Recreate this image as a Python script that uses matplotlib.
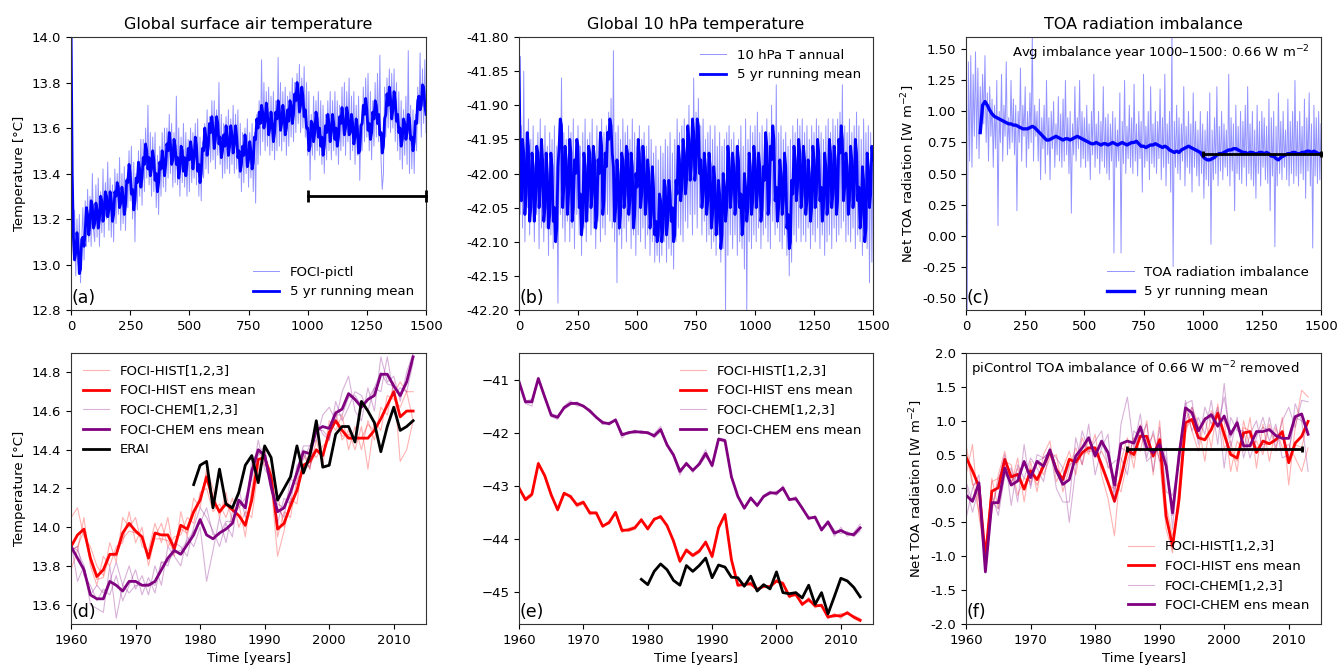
import numpy as np
import matplotlib
matplotlib.use("Agg")
import matplotlib.pyplot as plt
from matplotlib.ticker import FormatStrFormatter

plt.rcParams["font.family"] = ["DejaVu Sans"]
plt.rcParams["font.size"] = 9.5
plt.rcParams["axes.edgecolor"] = "0.2"

# ---------------------------------------------------------------- piControl (years 0-1500)
pictl_step = 5          # spacing of the annual and running-mean samples [years]
toa_mean_step = 10      # spacing of the smoothed TOA samples [years]

# global surface air temperature, annual values [°C]
sat_annual = [
    14.30, 13.20, 13.02, 13.24, 12.95, 13.20, 13.00, 13.22, 12.92, 13.10, 13.25, 13.02, 13.28, 13.08, 13.33, 13.10, 13.30, 13.08, 13.40, 13.15,
    13.10, 13.35, 13.12, 13.38, 13.08, 13.32, 13.14, 13.42, 13.12, 13.36, 13.20, 13.45, 13.15, 13.38, 13.12, 13.35, 13.10, 13.42, 13.18, 13.40,
    13.22, 13.47, 13.15, 13.40, 13.18, 13.43, 13.15, 13.38, 13.25, 13.50, 13.28, 13.52, 13.20, 13.45, 13.10, 13.40, 13.24, 13.50, 13.30, 13.55,
    13.26, 13.55, 13.32, 13.60, 13.38, 13.70, 13.35, 13.58, 13.30, 13.56, 13.32, 13.58, 13.25, 13.48, 13.22, 13.52, 13.30, 13.58, 13.34, 13.60,
    13.32, 13.60, 13.38, 13.66, 13.40, 13.62, 13.34, 13.58, 13.36, 13.74, 13.35, 13.60, 13.30, 13.56, 13.36, 13.62, 13.34, 13.58, 13.30, 13.55,
    13.32, 13.60, 13.36, 13.58, 13.38, 13.62, 13.35, 13.64, 13.30, 13.56, 13.28, 13.54, 13.38, 13.62, 13.42, 13.68, 13.40, 13.65, 13.45, 13.72,
    13.46, 13.72, 13.42, 13.68, 13.48, 13.80, 13.44, 13.66, 13.38, 13.62, 13.40, 13.65, 13.42, 13.68, 13.40, 13.64, 13.44, 13.70, 13.40, 13.66,
    13.42, 13.68, 13.38, 13.62, 13.32, 13.58, 13.36, 13.60, 13.40, 13.64, 13.34, 13.58, 13.38, 13.62, 13.32, 13.58, 13.27, 13.66, 13.44, 13.72,
    13.48, 13.90, 13.54, 13.80, 13.50, 13.76, 13.52, 13.78, 13.48, 13.74, 13.50, 13.76, 13.46, 13.72, 13.50, 13.91, 13.52, 13.80, 13.50, 13.76,
    13.54, 13.78, 13.48, 13.74, 13.52, 13.76, 13.56, 13.82, 13.54, 13.80, 13.58, 13.84, 13.62, 13.88, 13.58, 13.82, 13.60, 13.87, 13.56, 13.80,
    13.48, 13.76, 13.37, 13.66, 13.48, 13.74, 13.46, 13.72, 13.50, 13.76, 13.48, 13.72, 13.44, 13.70, 13.40, 13.66, 13.46, 13.72, 13.50, 13.76,
    13.46, 13.72, 13.50, 13.76, 13.48, 13.72, 13.44, 13.70, 13.50, 13.78, 13.52, 13.80, 13.48, 13.76, 13.54, 13.82, 13.46, 13.74, 13.50, 13.76,
    13.44, 13.70, 13.48, 13.74, 13.37, 13.62, 13.50, 13.78, 13.54, 13.82, 13.56, 13.84, 13.50, 13.76, 13.46, 13.72, 13.52, 13.80, 13.56, 13.84,
    13.54, 13.92, 13.46, 13.33, 13.40, 13.78, 13.56, 13.82, 13.60, 13.86, 13.58, 13.84, 13.60, 13.86, 13.54, 13.80, 13.50, 13.76, 13.46, 13.72,
    13.42, 13.68, 13.48, 13.74, 13.44, 13.94, 13.40, 13.70, 13.42, 13.68, 13.40, 13.66, 13.50, 13.78, 13.62, 13.93, 13.56, 13.86, 13.62, 13.90,
    13.58,
]
sat_runmean = [
    14.05, 13.40, 13.12, 13.02, 13.05, 13.14, 13.08, 12.96, 12.98, 13.11, 13.12, 13.08, 13.15, 13.25, 13.22, 13.13, 13.18, 13.28, 13.26, 13.16,
    13.18, 13.27, 13.24, 13.16, 13.20, 13.30, 13.28, 13.19, 13.22, 13.32, 13.30, 13.21, 13.24, 13.32, 13.28, 13.19, 13.22, 13.32, 13.30, 13.36,
    13.34, 13.25, 13.27, 13.34, 13.30, 13.22, 13.26, 13.37, 13.36, 13.44, 13.40, 13.31, 13.33, 13.24, 13.28, 13.38, 13.36, 13.45, 13.42, 13.34,
    13.38, 13.47, 13.44, 13.53, 13.50, 13.42, 13.47, 13.39, 13.42, 13.50, 13.46, 13.37, 13.40, 13.32, 13.36, 13.45, 13.42, 13.50, 13.46, 13.39,
    13.44, 13.53, 13.50, 13.58, 13.53, 13.44, 13.46, 13.55, 13.52, 13.44, 13.47, 13.38, 13.42, 13.52, 13.50, 13.41, 13.47, 13.39, 13.44, 13.51,
    13.46, 13.54, 13.50, 13.42, 13.47, 13.56, 13.52, 13.41, 13.44, 13.36, 13.40, 13.51, 13.50, 13.60, 13.56, 13.48, 13.52, 13.62, 13.58, 13.65,
    13.60, 13.51, 13.55, 13.65, 13.62, 13.53, 13.56, 13.47, 13.50, 13.57, 13.52, 13.61, 13.56, 13.48, 13.52, 13.61, 13.57, 13.49, 13.53, 13.61,
    13.56, 13.47, 13.50, 13.41, 13.44, 13.52, 13.48, 13.57, 13.52, 13.43, 13.46, 13.54, 13.50, 13.42, 13.45, 13.56, 13.55, 13.64, 13.60, 13.67,
    13.62, 13.70, 13.67, 13.60, 13.63, 13.71, 13.66, 13.57, 13.60, 13.67, 13.62, 13.54, 13.58, 13.67, 13.64, 13.72, 13.68, 13.59, 13.62, 13.70,
    13.66, 13.57, 13.60, 13.68, 13.63, 13.72, 13.70, 13.62, 13.66, 13.75, 13.72, 13.80, 13.76, 13.67, 13.70, 13.78, 13.74, 13.65, 13.68, 13.60,
    13.60, 13.50, 13.52, 13.63, 13.62, 13.54, 13.58, 13.67, 13.64, 13.56, 13.60, 13.52, 13.56, 13.48, 13.52, 13.61, 13.58, 13.66, 13.62, 13.54,
    13.58, 13.66, 13.62, 13.55, 13.60, 13.52, 13.56, 13.65, 13.62, 13.69, 13.64, 13.57, 13.60, 13.69, 13.66, 13.57, 13.58, 13.66, 13.62, 13.53,
    13.56, 13.64, 13.60, 13.49, 13.50, 13.61, 13.62, 13.70, 13.66, 13.73, 13.68, 13.59, 13.62, 13.55, 13.58, 13.67, 13.64, 13.72, 13.70, 13.62,
    13.66, 13.57, 13.58, 13.49, 13.52, 13.64, 13.66, 13.75, 13.70, 13.78, 13.73, 13.64, 13.68, 13.76, 13.72, 13.63, 13.66, 13.58, 13.60, 13.52,
    13.55, 13.64, 13.62, 13.55, 13.58, 13.66, 13.64, 13.55, 13.56, 13.50, 13.54, 13.63, 13.62, 13.72, 13.74, 13.68, 13.70, 13.79, 13.78, 13.70,
    13.66,
]
sat_bar = [1000, 1500, 13.30]

# global 10 hPa temperature, annual values [°C]
t10_annual = [
    -41.83, -42.06, -41.93, -42.08, -41.85, -42.10, -41.94, -42.05, -41.92, -42.09, -41.95, -42.07, -41.93, -42.10, -41.96, -42.06, -41.94, -42.11, -41.92, -42.08,
    -41.95, -42.10, -41.93, -42.08, -41.96, -42.12, -41.94, -42.09, -41.95, -42.11, -41.93, -42.10, -41.96, -42.19, -41.92, -42.06, -41.86, -42.08, -41.94, -42.10,
    -41.95, -42.07, -41.93, -42.10, -41.94, -42.08, -41.92, -42.11, -41.95, -42.06, -41.93, -42.09, -41.96, -42.12, -41.94, -42.08, -41.92, -42.10, -41.95, -42.07,
    -41.94, -42.09, -41.92, -42.08, -41.96, -42.11, -41.93, -42.07, -41.95, -42.10, -41.92, -42.08, -41.94, -42.09, -41.93, -42.06, -41.91, -42.07, -41.89, -42.08,
    -41.82, -42.10, -41.94, -42.16, -41.93, -42.09, -41.95, -42.11, -41.92, -42.08, -41.94, -42.10, -41.93, -42.07, -41.95, -42.11, -41.92, -42.09, -41.94, -42.12,
    -41.96, -42.09, -41.93, -42.10, -41.95, -42.08, -41.94, -42.11, -41.96, -42.09, -41.93, -42.12, -41.95, -42.10, -41.97, -42.13, -41.96, -42.12, -41.98, -42.13,
    -41.96, -42.12, -41.97, -42.10, -41.95, -42.13, -41.96, -42.11, -41.94, -42.12, -41.97, -42.14, -41.95, -42.10, -41.92, -42.08, -41.94, -42.09, -41.93, -42.10,
    -41.92, -42.07, -41.94, -42.08, -41.90, -42.06, -41.93, -42.09, -41.86, -42.06, -41.91, -42.08, -41.89, -42.05, -41.93, -42.09, -41.92, -42.07, -41.95, -42.10,
    -41.94, -42.09, -41.93, -42.11, -41.95, -42.10, -41.93, -42.12, -41.96, -42.09, -41.94, -42.13, -41.96, -42.11, -41.95, -42.20, -41.94, -42.12, -41.93, -42.09,
    -41.95, -42.11, -41.94, -42.09, -41.96, -42.12, -41.95, -42.10, -41.93, -42.11, -41.96, -42.14, -41.92, -42.20, -41.95, -42.10, -41.93, -42.11, -41.94, -42.09,
    -41.93, -42.10, -41.91, -42.08, -41.94, -42.11, -41.93, -42.09, -41.95, -42.08, -41.92, -42.10, -41.94, -42.11, -41.90, -42.07, -41.93, -42.09, -41.87, -42.08,
    -41.94, -42.10, -41.93, -42.11, -41.95, -42.09, -41.94, -42.12, -41.96, -42.15, -41.95, -42.13, -41.93, -42.09, -41.94, -42.10, -41.92, -42.08, -41.93, -42.10,
    -41.92, -42.09, -41.94, -42.10, -41.93, -42.08, -41.95, -42.11, -41.93, -42.09, -41.94, -42.10, -41.92, -42.08, -41.93, -42.11, -41.94, -42.09, -41.95, -42.12,
    -41.93, -42.10, -41.92, -42.09, -41.94, -42.11, -41.92, -42.08, -41.93, -42.10, -41.92, -42.09, -41.91, -42.08, -41.87, -42.07, -41.93, -42.10, -41.94, -42.09,
    -41.92, -42.10, -41.94, -42.08, -41.93, -42.11, -41.91, -42.09, -41.93, -42.10, -41.95, -42.12, -41.92, -42.09, -41.94, -42.11, -41.93, -42.16, -41.94, -42.13,
    -41.96,
]
t10_runmean = [
    -41.83, -41.98, -42.04, -41.95, -41.97, -42.06, -42.03, -41.94, -41.96, -42.07, -42.05, -41.97, -41.99, -42.07, -42.04, -41.96, -41.97, -42.05, -42.02, -41.95,
    -41.98, -42.07, -42.05, -41.97, -42.00, -42.08, -42.06, -41.97, -41.99, -42.07, -42.05, -42.10, -42.08, -41.99, -41.96, -41.92, -41.93, -42.05, -42.02, -41.96,
    -41.98, -42.06, -42.03, -41.95, -41.97, -42.07, -42.05, -41.98, -42.00, -41.95, -41.96, -42.05, -42.03, -42.09, -42.07, -41.97, -41.99, -42.07, -42.04, -41.96,
    -41.97, -42.05, -42.03, -41.96, -41.98, -42.08, -42.06, -41.98, -42.00, -41.94, -41.96, -42.06, -42.04, -41.97, -41.99, -41.94, -41.95, -41.92, -41.93, -41.97,
    -41.99, -42.07, -42.05, -41.98, -42.00, -42.08, -42.06, -41.97, -41.98, -42.05, -42.03, -41.96, -41.97, -42.06, -42.04, -41.97, -41.99, -42.08, -42.06, -42.00,
    -42.02, -41.95, -41.97, -42.05, -42.03, -41.96, -41.98, -42.06, -42.04, -41.98, -42.00, -42.08, -42.06, -41.99, -42.02, -42.09, -42.07, -42.10, -42.09, -42.03,
    -42.04, -42.10, -42.08, -42.01, -42.02, -42.09, -42.07, -42.01, -42.03, -42.07, -42.05, -42.10, -42.09, -42.01, -42.03, -41.96, -41.98, -42.04, -42.02, -41.95,
    -41.97, -42.03, -42.01, -41.93, -41.95, -42.01, -41.99, -41.92, -41.94, -42.01, -41.99, -41.92, -41.93, -42.00, -41.98, -42.05, -42.03, -41.97, -41.99, -42.06,
    -42.04, -41.97, -41.99, -42.08, -42.06, -41.99, -42.01, -42.09, -42.07, -42.01, -42.03, -42.11, -42.09, -42.00, -42.02, -42.07, -42.05, -41.96, -41.98, -42.05,
    -42.03, -41.97, -41.99, -42.06, -42.04, -41.96, -41.98, -42.05, -42.03, -42.09, -42.07, -42.00, -42.02, -42.07, -42.05, -41.97, -41.99, -42.06, -42.04, -41.96,
    -41.98, -42.05, -42.03, -41.97, -41.99, -42.07, -42.05, -41.99, -42.01, -41.94, -41.96, -42.06, -42.04, -41.96, -41.98, -41.93, -41.95, -42.04, -42.02, -42.07,
    -42.05, -41.98, -42.00, -42.06, -42.04, -41.97, -41.99, -42.08, -42.06, -42.11, -42.10, -42.01, -42.03, -41.96, -41.98, -42.04, -42.02, -41.95, -41.97, -42.05,
    -42.03, -41.96, -41.98, -42.06, -42.04, -41.98, -42.00, -42.07, -42.05, -41.96, -41.98, -42.05, -42.03, -41.95, -41.97, -42.04, -42.02, -42.07, -42.05, -41.97,
    -41.99, -42.06, -42.04, -41.95, -41.97, -42.05, -42.03, -41.96, -41.98, -42.06, -42.04, -41.95, -41.97, -41.93, -41.95, -42.04, -42.02, -41.97, -41.99, -42.06,
    -42.04, -41.96, -41.98, -42.05, -42.03, -41.95, -41.97, -42.04, -42.02, -42.08, -42.06, -41.99, -42.01, -42.10, -42.08, -41.97, -41.99, -42.05, -42.03, -41.96,
    -41.98,
]

# net TOA radiation, annual values [W m-2]
toa_annual = [
    0.90, -0.60, 1.40, 0.60, 1.45, 0.55, 1.30, 0.80, 1.48, 0.70, 1.35, 0.62, 1.20, 0.85, 1.30, 0.90, 1.45, 0.75, 1.15, 0.60,
    1.20, 0.80, 1.10, 0.55, 1.05, 0.70, 1.25, 0.08, 1.00, 0.75, 1.30, 0.60, 1.05, 0.80, 1.40, 0.65, 0.95, 0.70, 1.25, 0.75,
    1.10, 0.65, 1.05, 0.20, 1.00, 0.75, 1.35, 0.60, 1.05, 0.80, 1.20, 0.55, 1.00, 0.70, 1.15, 0.75, 1.62, 0.60, 1.05, 0.80,
    1.00, 0.60, 1.10, 0.45, 0.95, 0.70, 1.05, 0.50, 1.25, 0.65, 0.95, 0.45, 1.00, 0.70, 1.08, 0.55, 0.90, 0.65, 1.12, 0.60,
    0.98, 0.55, 1.10, 0.60, 1.25, 0.65, 0.95, 0.50, 1.00, 0.18, 0.90, 0.65, 1.20, 0.60, 0.95, 0.70, 1.25, 0.55, 1.00, 0.62,
    0.95, 0.55, 1.05, 0.60, 0.90, 0.45, 1.00, 0.65, 1.30, 0.55, 0.90, 0.62, 1.00, 0.50, 0.92, 0.60, 1.20, 0.55, 0.95, 0.50,
    0.98, 0.45, 0.90, 0.60, 1.00, -0.14, 0.95, 0.55, 0.85, 0.60, 1.15, -0.14, 0.92, 0.58, 1.25, 0.50, 0.88, 0.62, 1.05, 0.55,
    0.95, 0.50, 1.22, 0.60, 0.90, 0.48, 1.00, 0.62, 0.92, 0.35, 1.30, 0.55, 0.88, 0.60, 1.00, 0.45, 1.20, 0.58, 0.90, 0.55,
    1.00, 0.50, 0.92, 0.62, 1.18, 0.45, 0.95, 0.55, 1.30, 0.40, 0.90, 0.58, 1.00, 0.35, 1.62, -0.25, 0.92, 0.55, 1.05, 0.50,
    0.95, 0.45, 0.90, 0.60, 1.20, 0.40, 0.88, 0.55, 1.00, 0.50, 0.90, 0.35, 1.15, 0.55, 0.92, 0.48, 0.85, 0.40, 1.00, 0.50,
    0.90, 0.30, 0.85, 0.45, 1.00, 0.40, 1.15, -0.07, 0.85, 0.45, 0.95, 0.50, 1.20, 0.40, 0.88, 0.52, 1.00, 0.45, 0.90, 0.55,
    0.85, 0.48, 1.30, 0.40, 0.95, 0.52, 0.90, 0.20, 1.05, 0.50, 0.88, 0.45, 1.00, 0.42, 0.92, 0.55, 1.05, 0.40, 1.20, 0.50,
    0.90, 0.45, 1.00, 0.40, 0.85, 0.30, 1.05, 0.50, 0.92, 0.40, 1.00, 0.55, 0.95, 0.45, 0.88, 0.42, 1.10, 0.20, 0.95, 0.48,
    1.00, -0.09, 0.88, 0.40, 1.15, 0.50, 0.92, 0.45, 1.00, 0.55, 0.85, 0.45, 1.10, 0.40, 0.92, 0.50, 1.00, 0.42, 1.25, 0.48,
    0.92, 0.40, 1.00, 0.50, 0.88, 0.45, 1.10, 0.30, 0.95, 0.52, 1.15, 0.40, 0.90, -0.10, 1.05, 0.48, 0.95, 0.42, 1.00, 0.45,
    0.90,
]
toa_runmean_start = 60
toa_runmean = [
    0.83, 1.05, 1.08, 1.05, 1.01, 0.98, 0.96, 0.95, 0.94, 0.93, 0.92, 0.91, 0.90, 0.90,
    0.89, 0.89, 0.88, 0.87, 0.86, 0.86, 0.86, 0.87, 0.88, 0.87,
    0.85, 0.83, 0.81, 0.79, 0.77, 0.77, 0.78, 0.79, 0.80, 0.79,
    0.78, 0.77, 0.78, 0.78, 0.77, 0.78, 0.79, 0.80, 0.79, 0.78,
    0.77, 0.76, 0.75, 0.74, 0.74, 0.75, 0.74, 0.73, 0.74, 0.74,
    0.73, 0.74, 0.75, 0.74, 0.73, 0.74, 0.75, 0.74, 0.73, 0.74,
    0.75, 0.75, 0.76, 0.74, 0.72, 0.72, 0.71, 0.72, 0.73, 0.73,
    0.74, 0.73, 0.72, 0.71, 0.72, 0.71, 0.69, 0.68, 0.67, 0.68,
    0.67, 0.69, 0.70, 0.71, 0.72, 0.71, 0.70, 0.69, 0.68, 0.67,
    0.64, 0.62, 0.61, 0.61, 0.62, 0.63, 0.65, 0.66, 0.66, 0.67,
    0.68, 0.69, 0.69, 0.70, 0.70, 0.69, 0.68, 0.67, 0.67, 0.66,
    0.67, 0.67, 0.66, 0.66, 0.67, 0.67, 0.66, 0.67, 0.66, 0.64,
    0.64, 0.62, 0.61, 0.63, 0.64, 0.65, 0.66, 0.66, 0.67, 0.67,
    0.66, 0.66, 0.67, 0.67, 0.68, 0.68, 0.67, 0.68, 0.67, 0.66,
    0.66,
]
toa_avg = 0.66
toa_avg_period = [1000, 1500]

# ---------------------------------------------------------------- historical runs (1960-2013)
hist_start = 1960
erai_start = 1979

sat_hist_members = [
    [14.05, 14.10, 13.95, 13.90, 13.80, 13.75, 13.92, 13.82, 14.05, 14.00,
     14.05, 13.90, 13.88, 14.02, 13.92, 14.05, 13.85, 14.08, 13.95, 14.15,
     14.10, 14.30, 14.20, 14.05, 14.18, 14.02, 14.12, 13.95, 14.20, 14.40,
     14.32, 14.30, 13.95, 14.08, 14.05, 14.25, 14.28, 14.40, 14.36, 14.42,
     14.45, 14.60, 14.45, 14.50, 14.40, 14.52, 14.30, 14.55, 14.50, 14.68,
     14.66, 14.62, 14.70, 14.70],
    [13.78, 13.88, 14.05, 13.80, 13.70, 13.85, 13.80, 13.90, 13.92, 14.08,
     13.92, 14.00, 13.80, 13.95, 14.02, 13.90, 13.95, 13.96, 14.05, 14.02,
     14.18, 14.20, 14.08, 14.12, 14.05, 14.15, 14.00, 14.08, 14.05, 14.30,
     14.40, 14.22, 13.85, 13.98, 14.15, 14.12, 14.38, 14.30, 14.45, 14.32,
     14.55, 14.50, 14.58, 14.40, 14.52, 14.40, 14.55, 14.45, 14.62, 14.58,
     14.75, 14.34, 14.40, 14.55],
    [13.88, 13.90, 13.98, 13.82, 13.73, 13.74, 13.86, 13.85, 13.94, 13.98,
     13.97, 13.95, 13.84, 13.94, 13.94, 13.93, 13.87, 13.99, 13.97, 14.07,
     14.14, 14.28, 14.14, 14.07, 14.13, 14.10, 14.06, 14.00, 14.17, 14.35,
     14.36, 14.26, 14.17, 14.00, 14.13, 14.20, 14.30, 14.32, 14.39, 14.37,
     14.47, 14.55, 14.47, 14.48, 14.46, 14.46, 14.53, 14.50, 14.56, 14.63,
     14.69, 14.75, 14.70, 14.55],
]
sat_hist_mean = [
    13.90, 13.96, 13.99, 13.84, 13.745, 13.78, 13.86, 13.86, 13.97, 14.02,
    13.98, 13.95, 13.84, 13.97, 13.96, 13.96, 13.89, 14.01, 13.99, 14.08,
    14.14, 14.26, 14.14, 14.08, 14.12, 14.09, 14.06, 14.01, 14.14, 14.35,
    14.36, 14.26, 13.99, 14.02, 14.11, 14.19, 14.32, 14.34, 14.40, 14.37,
    14.49, 14.55, 14.50, 14.46, 14.46, 14.46, 14.46, 14.50, 14.56, 14.63,
    14.70, 14.57, 14.60, 14.60,
]
sat_chem_members = [
    [13.92, 13.72, 13.80, 13.60, 13.58, 13.56, 13.80, 13.53, 13.70, 13.80,
     13.68, 13.75, 13.65, 13.80, 13.70, 13.90, 13.85, 13.80, 13.95, 13.90,
     14.00, 13.72, 13.88, 14.05, 13.92, 14.08, 14.10, 14.15, 14.25, 14.45,
     14.30, 14.25, 14.02, 14.15, 14.12, 14.32, 14.35, 14.42, 14.45, 14.58,
     14.62, 14.55, 14.70, 14.78, 14.60, 14.55, 14.72, 14.60, 14.88, 14.75,
     14.78, 14.65, 14.80, 14.90],
    [13.88, 13.90, 13.75, 13.70, 13.62, 13.68, 13.65, 13.75, 13.62, 13.70,
     13.78, 13.65, 13.74, 13.66, 13.82, 13.80, 13.92, 13.90, 13.85, 14.00,
     14.10, 14.05, 13.98, 13.90, 14.02, 13.95, 14.20, 14.05, 14.35, 14.38,
     14.42, 14.18, 14.10, 14.05, 14.25, 14.22, 14.40, 14.30, 14.55, 14.48,
     14.45, 14.65, 14.55, 14.62, 14.70, 14.68, 14.60, 14.72, 14.70, 14.88,
     14.68, 14.72, 14.70, 14.85],
    [13.90, 13.88, 13.80, 13.65, 13.70, 13.66, 13.72, 13.82, 13.70, 13.66,
     13.70, 13.70, 13.71, 13.70, 13.82, 13.82, 13.87, 13.88, 13.93, 13.98,
     14.02, 14.10, 13.96, 13.96, 14.03, 14.03, 14.12, 14.10, 14.27, 14.37,
     14.40, 14.20, 14.12, 14.10, 14.17, 14.30, 14.42, 14.42, 14.50, 14.50,
     14.46, 14.58, 14.58, 14.67, 14.68, 14.63, 14.66, 14.72, 14.80, 14.74,
     14.73, 14.67, 14.75, 14.89],
]
sat_chem_mean = [
    13.90, 13.84, 13.78, 13.65, 13.63, 13.63, 13.72, 13.70, 13.67, 13.72,
    13.72, 13.70, 13.70, 13.72, 13.78, 13.84, 13.88, 13.86, 13.91, 13.96,
    14.04, 13.96, 13.94, 13.97, 13.99, 14.02, 14.14, 14.10, 14.29, 14.40,
    14.37, 14.21, 14.08, 14.10, 14.18, 14.28, 14.39, 14.38, 14.50, 14.52,
    14.51, 14.59, 14.61, 14.69, 14.66, 14.62, 14.66, 14.68, 14.79, 14.79,
    14.73, 14.68, 14.75, 14.88,
]
sat_erai = [
    14.22, 14.32, 14.34, 14.10, 14.30, 14.12, 14.10, 14.18, 14.32, 14.37,
    14.23, 14.42, 14.36, 14.14, 14.20, 14.26, 14.42, 14.28, 14.37, 14.55,
    14.31, 14.32, 14.48, 14.52, 14.52, 14.44, 14.65, 14.60, 14.54, 14.39,
    14.52, 14.62, 14.50, 14.52, 14.55,
]

t10_hist_members = [
    [-43.00, -43.28, -43.20, -42.55, -42.85, -43.20, -43.42, -43.12, -43.24, -43.33,
     -43.28, -43.55, -43.50, -43.78, -43.66, -43.52, -43.88, -43.80, -43.76, -43.66,
     -43.78, -43.66, -43.55, -43.78, -44.00, -44.45, -44.18, -44.28, -44.20, -44.10,
     -44.30, -43.82, -43.52, -44.42, -44.85, -44.88, -44.80, -44.98, -44.86, -44.93,
     -44.76, -44.86, -45.05, -45.08, -45.20, -45.18, -45.22, -45.28, -45.45, -45.48,
     -45.40, -45.42, -45.44, -45.50],
    [-43.08, -43.22, -43.14, -42.62, -42.78, -43.14, -43.48, -43.18, -43.18, -43.40,
     -43.34, -43.48, -43.54, -43.73, -43.72, -43.48, -43.80, -43.86, -43.82, -43.61,
     -43.84, -43.60, -43.62, -43.72, -44.08, -44.38, -44.24, -44.34, -44.26, -44.03,
     -44.36, -43.76, -43.58, -44.35, -44.90, -44.83, -44.88, -44.92, -44.92, -44.87,
     -44.82, -44.80, -45.11, -45.00, -45.26, -45.10, -45.30, -45.22, -45.50, -45.40,
     -45.50, -45.36, -45.50, -45.56],
    [-43.04, -43.28, -43.14, -42.57, -42.80, -43.17, -43.45, -43.12, -43.19, -43.35,
     -43.31, -43.50, -43.49, -43.77, -43.69, -43.50, -43.84, -43.83, -43.79, -43.65,
     -43.81, -43.63, -43.57, -43.75, -44.04, -44.43, -44.21, -44.31, -44.23, -44.05,
     -44.33, -43.79, -43.52, -44.40, -44.86, -44.87, -44.84, -44.95, -44.89, -44.90,
     -44.79, -44.86, -45.08, -45.04, -45.23, -45.14, -45.26, -45.25, -45.46, -45.44,
     -45.45, -45.39, -45.47, -45.53],
]
t10_hist_mean = [
    -43.04, -43.26, -43.16, -42.58, -42.81, -43.17, -43.45, -43.14, -43.20, -43.36,
    -43.31, -43.51, -43.51, -43.76, -43.69, -43.50, -43.84, -43.83, -43.79, -43.64,
    -43.81, -43.63, -43.58, -43.75, -44.04, -44.42, -44.21, -44.31, -44.23, -44.06,
    -44.33, -43.79, -43.54, -44.39, -44.87, -44.86, -44.84, -44.95, -44.89, -44.90,
    -44.79, -44.84, -45.08, -45.04, -45.23, -45.14, -45.26, -45.25, -45.47, -45.44,
    -45.45, -45.39, -45.47, -45.53,
]
t10_chem_members = [
    [-41.02, -41.45, -41.50, -40.98, -41.30, -41.70, -41.75, -41.50, -41.40, -41.50,
     -41.48, -41.62, -41.70, -41.85, -41.80, -41.78, -42.10, -41.98, -42.02, -41.96,
     -42.03, -42.02, -41.88, -42.25, -42.45, -42.80, -42.55, -42.75, -42.55, -42.32,
     -42.65, -42.10, -42.12, -42.86, -43.18, -43.45, -43.20, -43.40, -43.18, -43.10,
     -43.18, -43.00, -43.28, -43.20, -43.45, -43.58, -43.62, -43.80, -43.72, -43.95,
     -43.78, -43.95, -43.88, -43.72],
    [-41.06, -41.40, -41.38, -41.00, -41.36, -41.64, -41.68, -41.56, -41.48, -41.42,
     -41.52, -41.56, -41.73, -41.78, -41.86, -41.74, -42.00, -42.03, -41.95, -42.02,
     -41.98, -42.10, -41.98, -42.20, -42.40, -42.68, -42.62, -42.68, -42.62, -42.45,
     -42.60, -42.14, -42.18, -42.80, -43.22, -43.40, -43.26, -43.35, -43.22, -43.16,
     -43.10, -43.08, -43.24, -43.28, -43.40, -43.64, -43.56, -43.86, -43.65, -43.84,
     -43.90, -43.86, -43.96, -43.85],
    [-41.04, -41.41, -41.38, -40.97, -41.33, -41.67, -41.70, -41.53, -41.46, -41.44,
     -41.50, -41.59, -41.70, -41.80, -41.83, -41.76, -42.03, -42.00, -41.97, -41.99,
     -42.00, -42.06, -41.95, -42.23, -42.41, -42.72, -42.58, -42.70, -42.60, -42.40,
     -42.62, -42.12, -42.15, -42.83, -43.20, -43.42, -43.23, -43.37, -43.20, -43.13,
     -43.14, -43.04, -43.26, -43.24, -43.42, -43.61, -43.59, -43.83, -43.68, -43.89,
     -43.84, -43.90, -43.92, -43.79],
]
t10_chem_mean = [
    -41.04, -41.42, -41.42, -40.98, -41.33, -41.67, -41.71, -41.53, -41.45, -41.45,
    -41.50, -41.59, -41.71, -41.81, -41.83, -41.76, -42.04, -42.00, -41.98, -41.99,
    -42.00, -42.06, -41.94, -42.23, -42.42, -42.73, -42.58, -42.71, -42.59, -42.39,
    -42.62, -42.12, -42.15, -42.83, -43.20, -43.42, -43.23, -43.37, -43.20, -43.13,
    -43.14, -43.04, -43.26, -43.24, -43.42, -43.61, -43.59, -43.83, -43.68, -43.89,
    -43.84, -43.90, -43.92, -43.79,
]
t10_erai = [
    -44.76, -44.86, -44.61, -44.47, -44.58, -44.78, -44.87, -44.50, -44.61, -44.50,
    -44.36, -44.73, -44.49, -44.53, -44.72, -44.73, -44.89, -44.70, -44.98, -44.86,
    -44.94, -44.62, -45.01, -45.03, -45.01, -45.11, -44.87, -45.23, -45.01, -45.41,
    -45.08, -44.74, -44.79, -44.91, -45.09,
]

toa_hist_members = [
    [0.65, 0.10, -0.35, -0.95, -0.35, 0.20, 0.55, 0.05, 0.45, -0.20,
     0.40, -0.05, 0.50, 0.70, 0.10, 0.30, 0.55, 0.20, 0.75, 0.50,
     0.80, 0.20, -0.15, -0.70, 0.40, 0.75, 0.30, 0.95, 0.60, 0.80,
     0.40, -0.60, -0.95, 0.05, 1.20, 0.85, 0.55, 1.05, 0.60, 1.25,
     0.60, 0.70, 0.25, 1.00, 0.60, 0.70, 0.50, 0.95, 0.55, 1.05,
     0.05, 0.90, 1.45, 1.35],
    [0.20, 0.65, -0.40, -1.05, 0.15, -0.30, 0.40, 0.35, -0.10, 0.15,
     0.10, 0.40, 0.20, 0.45, 0.50, -0.05, 0.30, 0.60, 0.35, 0.75,
     0.45, 0.55, 0.35, 0.10, -0.05, 0.40, 0.75, 0.55, 1.00, 0.20,
     1.00, -0.25, -0.70, -0.30, 0.80, 1.20, 0.95, 0.40, 1.15, 0.95,
     1.00, 0.25, 0.70, 0.55, 1.05, 0.30, 0.95, 0.40, 0.90, 0.60,
     0.65, 0.45, 0.25, 0.60],
    [0.55, 0.05, 0.10, -1.05, 0.10, 0.15, 0.35, 0.10, 0.30, 0.00,
     0.30, 0.05, 0.30, 0.50, 0.25, 0.15, 0.45, 0.35, 0.50, 0.55,
     0.55, 0.30, 0.05, 0.00, 0.15, 0.55, 0.45, 0.80, 0.70, 0.45,
     0.75, -0.40, -0.90, -0.20, 0.90, 1.00, 0.75, 0.70, 0.85, 1.15,
     0.80, 0.55, 0.40, 0.90, 0.85, 0.60, 0.65, 0.65, 0.70, 0.85,
     0.45, 0.65, 0.60, 1.00],
]
toa_hist_mean = [
    0.46, 0.26, 0.03, -1.02, -0.04, 0.01, 0.43, 0.17, 0.21, -0.01,
    0.26, 0.13, 0.33, 0.55, 0.28, 0.13, 0.43, 0.39, 0.53, 0.60,
    0.60, 0.35, 0.09, -0.19, 0.16, 0.57, 0.50, 0.77, 0.77, 0.48,
    0.72, -0.41, -0.85, -0.16, 0.97, 1.02, 0.75, 0.72, 0.87, 1.11,
    0.80, 0.50, 0.45, 0.82, 0.84, 0.53, 0.70, 0.66, 0.72, 0.84,
    0.38, 0.67, 0.77, 0.99,
]
toa_chem_members = [
    [-0.45, 0.00, 0.20, -1.20, -0.30, 0.10, 0.50, -0.25, 0.35, 0.15,
     0.45, 0.30, 0.10, 0.60, 0.00, -0.20, -0.20, 0.75, 0.35, 0.95,
     0.20, 0.60, 0.80, -0.20, 0.95, 1.35, 0.60, 1.10, 0.45, 0.85,
     0.40, 0.60, -0.60, 0.50, 1.30, 0.85, 1.05, 0.80, 1.30, 0.65,
     1.55, 0.60, 1.05, 0.45, 0.80, 1.00, 0.55, 1.05, 0.60, 1.00,
     1.20, 0.90, 1.30, 1.28],
    [0.05, -0.35, 0.00, -1.25, -0.10, -0.40, 0.20, 0.30, -0.20, 0.65,
     0.00, 0.50, 0.45, 0.55, 0.45, 0.30, -0.50, 0.30, 0.85, 0.55,
     0.70, 0.85, 0.30, 0.40, 0.45, 0.20, 0.85, 0.75, 0.95, 0.25,
     0.90, -0.05, -0.10, 0.35, 1.25, 1.30, 0.65, 1.20, 0.95, 1.20,
     0.30, 1.05, 0.85, 0.85, 0.45, 0.75, 1.05, 0.70, 0.95, 0.45,
     0.50, 1.25, 1.00, 0.25],
    [0.10, -0.20, 0.05, -1.20, -0.20, -0.30, 0.20, 0.10, 0.20, 0.40,
     0.05, 0.40, 0.45, 0.55, 0.30, 0.10, 0.35, 0.40, 0.60, 0.75,
     0.55, 0.65, 0.50, -0.05, 0.60, 0.55, 0.55, 0.90, 0.40, 0.50,
     0.65, 0.45, -0.40, 0.60, 1.00, 1.20, 0.85, 1.05, 1.05, 0.90,
     1.35, 0.75, 1.00, 0.60, 0.65, 0.80, 0.90, 0.85, 0.80, 0.75,
     0.55, 1.05, 1.00, 0.85],
]
toa_chem_mean = [
    -0.10, -0.19, 0.08, -1.23, -0.21, -0.21, 0.30, 0.05, 0.11, 0.40,
    0.16, 0.40, 0.33, 0.57, 0.26, 0.06, 0.13, 0.48, 0.60, 0.75,
    0.48, 0.70, 0.53, 0.05, 0.66, 0.70, 0.67, 0.91, 0.60, 0.53,
    0.65, 0.33, -0.36, 0.48, 1.19, 1.12, 0.85, 1.02, 1.09, 0.92,
    1.07, 0.80, 0.97, 0.63, 0.63, 0.84, 0.84, 0.87, 0.78, 0.74,
    0.74, 1.06, 1.10, 0.80,
]
toa_hist_bar = [1985, 2012, 0.59]

# ---------------------------------------------------------------- figure
fig = plt.figure(figsize=(13.38, 6.67), dpi=100)
ax_a = fig.add_axes([0.0531, 0.5352, 0.2653, 0.4093])
ax_b = fig.add_axes([0.3879, 0.5352, 0.2646, 0.4093])
ax_c = fig.add_axes([0.7220, 0.5352, 0.2653, 0.4093])
ax_d = fig.add_axes([0.0531, 0.0645, 0.2653, 0.4063])
ax_e = fig.add_axes([0.3879, 0.0645, 0.2646, 0.4063])
ax_f = fig.add_axes([0.7220, 0.0645, 0.2653, 0.4063])

C_ANN = "blue"
ANN_KW = dict(color=C_ANN, lw=0.7, alpha=0.42)
MEAN_KW = dict(color=C_ANN, lw=2.0)
LEG_KW = dict(frameon=False, fontsize=9.5)


def yrs(values, step, start=0):
    return start + step * np.arange(len(values))


def panel_letter(ax, s):
    ax.text(0.0, 0.01, s, transform=ax.transAxes, fontsize=12.5,
            ha="left", va="bottom")


def end_bar(ax, x0, x1, y, ms):
    ax.plot([x0, x1], [y, y], color="black", lw=2, marker="|",
            ms=ms, mew=2, clip_on=False, zorder=5)


# (a) surface air temperature
ax_a.plot(yrs(sat_annual, pictl_step), sat_annual, label="FOCI-pictl", **ANN_KW)
ax_a.plot(yrs(sat_runmean, pictl_step), sat_runmean, label="5 yr running mean", **MEAN_KW)
end_bar(ax_a, sat_bar[0], sat_bar[1], sat_bar[2], 9)
ax_a.set_ylim(12.8, 14.0)
ax_a.set_yticks(np.arange(12.8, 14.01, 0.2))
ax_a.yaxis.set_major_formatter(FormatStrFormatter("%.1f"))
ax_a.set_ylabel("Temperature [°C]")
ax_a.set_title("Global surface air temperature", fontsize=11.5)
ax_a.legend(loc="lower right", **LEG_KW)
panel_letter(ax_a, "(a)")

# (b) 10 hPa temperature
ax_b.plot(yrs(t10_annual, pictl_step), t10_annual, label="10 hPa T annual", **ANN_KW)
ax_b.plot(yrs(t10_runmean, pictl_step), t10_runmean, label="5 yr running mean", **MEAN_KW)
ax_b.set_ylim(-42.2, -41.8)
ax_b.set_yticks(np.arange(-42.2, -41.79, 0.05))
ax_b.yaxis.set_major_formatter(FormatStrFormatter("%.2f"))
ax_b.set_title("Global 10 hPa temperature", fontsize=11.5)
ax_b.legend(loc="upper right", **LEG_KW)
panel_letter(ax_b, "(b)")

# (c) TOA radiation imbalance
ax_c.plot(yrs(toa_annual, pictl_step), toa_annual, label="TOA radiation imbalance", **ANN_KW)
ax_c.plot(yrs(toa_runmean, toa_mean_step, toa_runmean_start), toa_runmean,
          label="5 yr running mean", color=C_ANN, lw=2.4)
end_bar(ax_c, toa_avg_period[0], toa_avg_period[1], toa_avg, 5)
ax_c.set_ylim(-0.6, 1.6)
ax_c.set_yticks(np.arange(-0.5, 1.51, 0.25))
ax_c.yaxis.set_major_formatter(FormatStrFormatter("%.2f"))
ax_c.set_ylabel("Net TOA radiation [W m$^{-2}$]")
ax_c.set_title("TOA radiation imbalance", fontsize=11.5)
ax_c.text(0.13, 0.975, f"Avg imbalance year {toa_avg_period[0]}–{toa_avg_period[1]}: "
          f"{toa_avg:.2f} W m$^{{-2}}$", transform=ax_c.transAxes, ha="left", va="top",
          fontsize=9.5)
ax_c.legend(loc="lower right", **LEG_KW)
panel_letter(ax_c, "(c)")

for ax in (ax_a, ax_b, ax_c):
    ax.set_xlim(0, 1500)
    ax.set_xticks(np.arange(0, 1501, 250))

# historical panels
HIST_C = "red"
CHEM_C = "purple"
MEM_KW = dict(lw=0.8, alpha=0.3)


def hist_panel(ax, hist_members, hist_mean, chem_members, chem_mean, erai=None):
    for i, m in enumerate(hist_members):
        ax.plot(yrs(m, 1, hist_start), m, color=HIST_C,
                label="FOCI-HIST[1,2,3]" if i == 0 else None, **MEM_KW)
    ax.plot(yrs(hist_mean, 1, hist_start), hist_mean, color=HIST_C, lw=2,
            label="FOCI-HIST ens mean")
    for i, m in enumerate(chem_members):
        ax.plot(yrs(m, 1, hist_start), m, color=CHEM_C,
                label="FOCI-CHEM[1,2,3]" if i == 0 else None, **MEM_KW)
    ax.plot(yrs(chem_mean, 1, hist_start), chem_mean, color=CHEM_C, lw=2,
            label="FOCI-CHEM ens mean")
    if erai is not None:
        ax.plot(yrs(erai, 1, erai_start), erai, color="black", lw=2, label="ERAI")
    ax.set_xlim(1960, 2015)
    ax.set_xticks(np.arange(1960, 2011, 10))
    ax.set_xlabel("Time [years]")


# (d)
hist_panel(ax_d, sat_hist_members, sat_hist_mean, sat_chem_members, sat_chem_mean, sat_erai)
ax_d.set_ylim(13.5, 14.9)
ax_d.set_yticks(np.arange(13.6, 14.81, 0.2))
ax_d.yaxis.set_major_formatter(FormatStrFormatter("%.1f"))
ax_d.set_ylabel("Temperature [°C]")
ax_d.legend(loc="upper left", **LEG_KW)
panel_letter(ax_d, "(d)")

# (e)
hist_panel(ax_e, t10_hist_members, t10_hist_mean, t10_chem_members, t10_chem_mean, t10_erai)
ax_e.set_ylim(-45.6, -40.5)
ax_e.set_yticks(np.arange(-45, -40.9, 1))
handles, labels = ax_e.get_legend_handles_labels()
ax_e.legend(handles[:4], labels[:4], loc="upper right", **LEG_KW)
panel_letter(ax_e, "(e)")

# (f)
hist_panel(ax_f, toa_hist_members, toa_hist_mean, toa_chem_members, toa_chem_mean)
end_bar(ax_f, toa_hist_bar[0], toa_hist_bar[1], toa_hist_bar[2], 5)
ax_f.set_ylim(-2.0, 2.0)
ax_f.set_yticks(np.arange(-2.0, 2.01, 0.5))
ax_f.yaxis.set_major_formatter(FormatStrFormatter("%.1f"))
ax_f.set_ylabel("Net TOA radiation [W m$^{-2}$]")
ax_f.text(0.015, 0.94, f"piControl TOA imbalance of {toa_avg:.2f} W m$^{{-2}}$ removed",
          transform=ax_f.transAxes, ha="left", va="center", fontsize=9.5)
ax_f.legend(loc="lower right", **LEG_KW)
panel_letter(ax_f, "(f)")

fig.savefig("out.png", dpi=100)
